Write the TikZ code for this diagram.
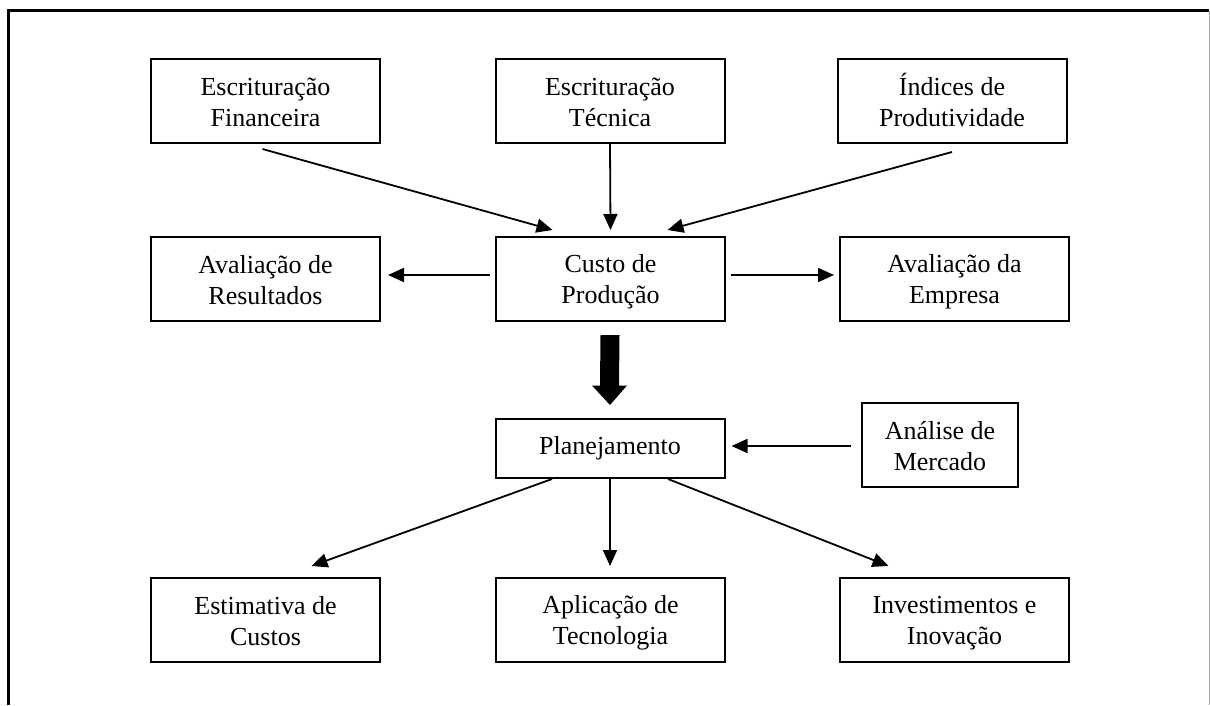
\documentclass[tikz,border=0pt]{standalone}
\usepackage{fontspec}
\setmainfont{Liberation Serif}
\usetikzlibrary{arrows.meta,calc}
\newcommand{\twol}[2]{\rule{0pt}{24pt}#1\\#2\rule[-5pt]{0pt}{5pt}}
\newcommand{\onel}[1]{\rule{0pt}{18pt}#1\rule[-5pt]{0pt}{5pt}}
\begin{document}
\begin{tikzpicture}[x=1pt,y=-1pt,
  box/.style={draw=black,line width=2pt,minimum width=229pt,minimum height=84pt,
    inner sep=0pt,align=center,font=\fontsize{26}{31}\selectfont},
  conn/.style={line width=1.8pt,-{Triangle[length=16pt,width=14pt]}},
  bigarrow/.style={fill=black}]
\useasboundingbox (0,0) rectangle (1210,705);
% frame
\draw[line width=2.2pt] (8.5,705) -- (8.5,10.5) -- (1209,10.5);
\draw[line width=0.8pt,black!35] (1209.5,10.5) -- (1209.5,705);
% nodes
\node[box] (fin) at (265.5,101) {\twol{Escrituração}{Financeira}};
\node[box] (tec) at (610,101) {\twol{Escrituração}{Técnica}};
\node[box] (ind) at (952,101) {\twol{Índices de}{Produtividade}};
\node[box] (res) at (265.5,279) {\twol{Avaliação de}{Resultados}};
\node[box] (custo) at (610.5,279) {\twol{Custo de}{Produção}};
\node[box] (emp) at (954.5,279) {\twol{Avaliação da}{Empresa}};
\node[box,minimum height=59pt] (plan) at (610,448.5) {\onel{Planejamento}};
\node[box,minimum width=156pt] (merc) at (940,445) {\twol{Análise de}{Mercado}};
\node[box] (est) at (265.5,620) {\twol{Estimativa de}{Custos}};
\node[box] (apl) at (610.5,620) {\twol{Aplicação de}{Tecnologia}};
\node[box] (inv) at (954.5,620) {\twol{Investimentos e}{Inovação}};
% connectors
\draw[conn] ($(fin.south)+(-3,5)$) -- ($(custo.north)+(-58,-6)$);
\draw[conn] (tec.south) -- ($(custo.north)+(0,-6)$);
\draw[conn] ($(ind.south)+(0,8)$) -- ($(custo.north)+(57,-6)$);
\draw[conn] ($(custo.west)+(-5,-4)$) -- ($(res.east)+(7,-4)$);
\draw[conn] ($(custo.east)+(5,-4)$) -- ($(emp.west)+(-5,-4)$);
\draw[conn] ($(merc.west)+(-10,1)$) -- ($(plan.east)+(6,-2.5)$);
\draw[conn] ($(plan.south)+(-58,0)$) -- ($(est.north)+(46,-11)$);
\draw[conn] (plan.south) -- ($(apl.north)+(-0.5,-11)$);
\draw[conn] ($(plan.south)+(58,0)$) -- ($(inv.north)+(-66,-11)$);
% thick arrow
\fill[bigarrow] ($(custo.south)+(-10,13)$) -- ($(custo.south)+(9,13)$)
  -- ($(plan.north)+(9,-32.5)$) -- ($(plan.north)+(17,-32.5)$)
  -- ($(plan.north)+(0,-13)$) -- ($(plan.north)+(-18,-32.5)$)
  -- ($(plan.north)+(-10,-32.5)$) -- cycle;
\end{tikzpicture}
\end{document}
